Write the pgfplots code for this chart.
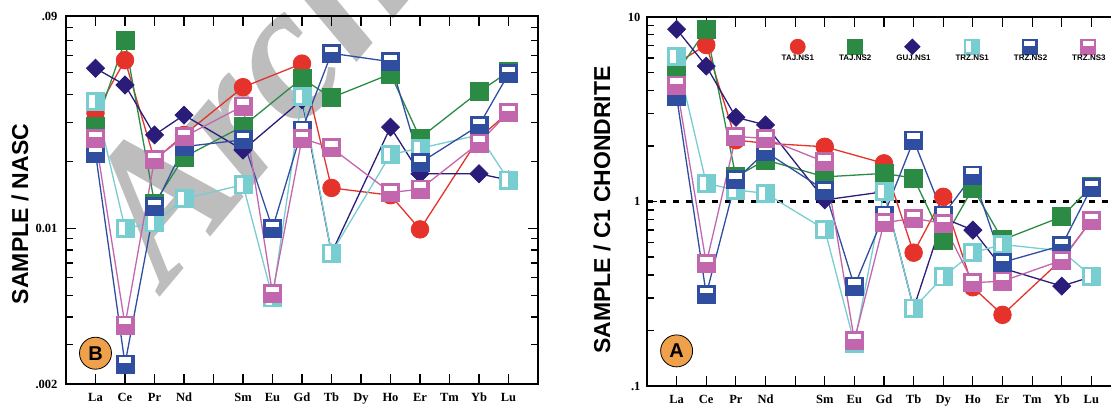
\documentclass[border=0pt]{standalone}
\usepackage{fontspec}
\setmainfont{Liberation Serif}
\newfontfamily\arialfont{Liberation Sans}
\usepackage{pgfplots}
\pgfplotsset{compat=1.18}

\definecolor{cRed}{HTML}{E5322B}
\definecolor{cGreen}{HTML}{2B8B45}
\definecolor{cNavy}{HTML}{2A1D7A}
\definecolor{cTeal}{HTML}{78CDD0}
\definecolor{cBlue}{HTML}{2F4EA0}
\definecolor{cPink}{HTML}{C267AE}
\definecolor{cOrange}{HTML}{EFA04A}
\definecolor{cWater}{HTML}{BDBDBD}

% diamond with equal width and height
\pgfdeclareplotmark{rhomb}{%
  \pgfpathmoveto{\pgfqpoint{0pt}{\pgfplotmarksize}}%
  \pgfpathlineto{\pgfqpoint{\pgfplotmarksize}{0pt}}%
  \pgfpathlineto{\pgfqpoint{0pt}{-\pgfplotmarksize}}%
  \pgfpathlineto{\pgfqpoint{-\pgfplotmarksize}{0pt}}%
  \pgfpathclose
  \pgfusepathqfillstroke}
% square with a white window in its upper part
\pgfdeclareplotmark{topwin}{%
  \pgfpathrectangle{\pgfqpoint{-\pgfplotmarksize}{-\pgfplotmarksize}}{\pgfqpoint{2\pgfplotmarksize}{2\pgfplotmarksize}}%
  \pgfusepathqfillstroke
  \begin{pgfscope}
  \pgfsetfillcolor{white}%
  \pgfpathrectangle{\pgfqpoint{-0.72\pgfplotmarksize}{0.15\pgfplotmarksize}}{\pgfqpoint{1.44\pgfplotmarksize}{0.6\pgfplotmarksize}}%
  \pgfusepathqfill
  \end{pgfscope}}
% square with a white strip on its left side
\pgfdeclareplotmark{sidewin}{%
  \pgfpathrectangle{\pgfqpoint{-\pgfplotmarksize}{-\pgfplotmarksize}}{\pgfqpoint{2\pgfplotmarksize}{2\pgfplotmarksize}}%
  \pgfusepathqfillstroke
  \begin{pgfscope}
  \pgfsetfillcolor{white}%
  \pgfpathrectangle{\pgfqpoint{-0.72\pgfplotmarksize}{-0.75\pgfplotmarksize}}{\pgfqpoint{0.7\pgfplotmarksize}{1.5\pgfplotmarksize}}%
  \pgfusepathqfill
  \end{pgfscope}}

\pgfplotsset{
  ree/.style={
    scale only axis, xmin=-1, xmax=15, clip=false,
    xtick={0,...,14},
    xticklabels={La,Ce,Pr,Nd,,Sm,Eu,Gd,Tb,Dy,Ho,Er,Tm,Yb,Lu},
    tick align=inside, major tick length=10pt, minor tick length=7pt,
    axis line style={line width=1.5pt},
    every tick/.style={black, line width=1.2pt},
    ticklabel style={font=\bfseries\fontsize{12.5}{13}\selectfont},
    xticklabel style={yshift=-8pt, inner sep=1pt},
  },
  ser/.style={line width=1.3pt, mark options={solid, line width=0.8pt}},
  tajA/.style={ser, color=cRed, mark=*, mark size=8.8pt},
  tajB/.style={ser, color=cGreen, mark=square*, mark size=9pt},
  gujA/.style={ser, color=cNavy, mark=rhomb, mark size=9pt},
  trzA/.style={ser, color=cTeal, mark=sidewin, mark size=9pt},
  trzB/.style={ser, color=cBlue, mark=topwin, mark size=9pt},
  trzC/.style={ser, color=cPink, mark=topwin, mark size=9pt},
  legmark/.style={legend image code/.code={\draw[##1,overlay,every mark/.append style={scale=0.85}] plot coordinates {(18pt,12pt)};}},
}
\tikzset{tagnode/.style={circle, fill=cOrange, draw=black, line width=0.8pt,
    minimum size=32pt, inner sep=0pt, font=\arialfont\bfseries\fontsize{20}{20}\selectfont}}

\begin{document}
\begin{tikzpicture}
\useasboundingbox (0,0) rectangle (1111pt,408pt);

% background stamp
\node[rotate=50, anchor=base west, text=cWater, inner sep=0pt,
  font=\fontsize{195}{195}\selectfont\bfseries\itshape] at (166pt,118pt) {Arch};

% ---------------- NASC-normalised panel ----------------
\begin{axis}[ymode=log, ree, at={(66pt,24pt)}, anchor=south west,
  width=472pt, height=368pt,
  ymin=0.002, ymax=0.09,
  ytick={0.002,0.01,0.09}, yticklabels={.002,0.01,.09},
  minor ytick={0.003,0.004,0.005,0.006,0.007,0.008,0.009,0.02,0.03,0.04,0.05,0.06,0.07,0.08},
  yticklabel style={xshift=-5pt},
]
\addplot[tajA] coordinates {(0,0.033) (1,0.057) (2,0.0203) (3,0.0263) (5,0.0431) (7,0.0550) (8,0.0152) (10,0.0141) (11,0.0099) (13,0.0255) (14,0.0332)};
\addplot[tajB] coordinates {(0,0.0288) (1,0.0697) (2,0.0130) (3,0.0209) (5,0.0288) (7,0.0472) (8,0.0387) (10,0.0494) (11,0.0255) (13,0.0411) (14,0.0505)};
\addplot[gujA] coordinates {(0,0.0524) (1,0.0441) (2,0.0263) (3,0.0323) (5,0.0225) (7,0.0378) (8,0.00775) (10,0.0285) (11,0.0176) (13,0.0176) (14,0.0165)};
\addplot[trzA] coordinates {(0,0.0371) (1,0.0100) (2,0.0106) (3,0.0136) (5,0.0157) (6,0.00488) (7,0.0392) (8,0.00775) (10,0.0215) (11,0.0229) (13,0.0263) (14,0.0165)};
\addplot[trzB] coordinates {(0,0.0218) (1,0.00246) (2,0.0125) (3,0.0233) (5,0.0250) (6,0.0100) (7,0.0277) (8,0.0612) (10,0.0561) (11,0.0197) (13,0.0290) (14,0.0495)};
\addplot[trzC] coordinates {(0,0.0254) (1,0.00368) (2,0.0204) (3,0.0258) (5,0.0355) (6,0.00510) (7,0.0254) (8,0.0230) (10,0.0145) (11,0.0150) (13,0.0242) (14,0.0332)};
\node[tagnode] at (axis cs:0,0.00275) {B};
\end{axis}

% ---------------- C1-chondrite-normalised panel ----------------
\begin{axis}[ymode=log, ree, at={(647pt,22pt)}, anchor=south west,
  width=474pt, height=369pt,
  ymin=0.1, ymax=10,
  ytick={0.1,1,10}, yticklabels={.1,1,10},
  minor ytick={0.2,0.3,0.4,0.5,0.6,0.7,0.8,0.9,2,3,4,5,6,7,8,9},
  yticklabel style={xshift=-3pt},
  legend columns=6,
  legend style={draw=none, fill=none, at={(0.28,0.902)}, anchor=north west,
    inner sep=0pt, outer sep=0pt,
    font=\arialfont\bfseries\fontsize{8}{9}\selectfont,
    /tikz/every even column/.append style={column sep=21pt}},
]
\addplot[black, line width=2.2pt, dash pattern=on 6pt off 7pt, forget plot] coordinates {(-1,1) (15,1)};
\addplot[tajA, legmark] coordinates {(0,5.61) (1,7.05) (2,2.15) (3,2.07) (5,1.98) (7,1.61) (8,0.528) (9,1.06) (10,0.343) (11,0.243) (13,0.485) (14,0.79)};
\addlegendentry{TAJ.NS1}
\addplot[tajB, legmark] coordinates {(0,4.95) (1,8.58) (2,1.36) (3,1.68) (5,1.36) (7,1.42) (8,1.34) (9,0.618) (10,1.18) (11,0.62) (13,0.827) (14,1.20)};
\addlegendentry{TAJ.NS2}
\addplot[gujA, legmark] coordinates {(0,8.58) (1,5.42) (2,2.86) (3,2.60) (5,1.02) (7,1.13) (8,0.264) (9,0.814) (10,0.70) (11,0.435) (13,0.348) (14,0.391)};
\addlegendentry{GUJ.NS1}
\addplot[trzA, legmark] coordinates {(0,6.09) (1,1.255) (2,1.154) (3,1.108) (5,0.706) (6,0.170) (7,1.13) (8,0.264) (9,0.391) (10,0.528) (11,0.585) (13,0.54) (14,0.394)};
\addlegendentry{TRZ.NS1}
\addplot[trzB, legmark] coordinates {(0,3.70) (1,0.314) (2,1.31) (3,1.86) (5,1.15) (6,0.348) (7,0.845) (8,2.15) (9,0.845) (10,1.39) (11,0.468) (13,0.577) (14,1.19)};
\addlegendentry{TRZ.NS2}
\addplot[trzC, legmark] coordinates {(0,4.28) (1,0.462) (2,2.25) (3,2.20) (5,1.64) (6,0.177) (7,0.767) (8,0.811) (9,0.76) (10,0.363) (11,0.370) (13,0.480) (14,0.79)};
\addlegendentry{TRZ.NS3}
\node[tagnode] at (axis cs:0,0.155) {A};
\end{axis}

% axis titles
\node[rotate=90, font=\arialfont\bfseries\fontsize{23}{24}\selectfont] at (20pt,194pt) {SAMPLE / NASC};
\node[rotate=90, font=\arialfont\bfseries\fontsize{23}{24}\selectfont] at (602pt,198pt) {SAMPLE / C1 CHONDRITE};
\end{tikzpicture}
\end{document}
